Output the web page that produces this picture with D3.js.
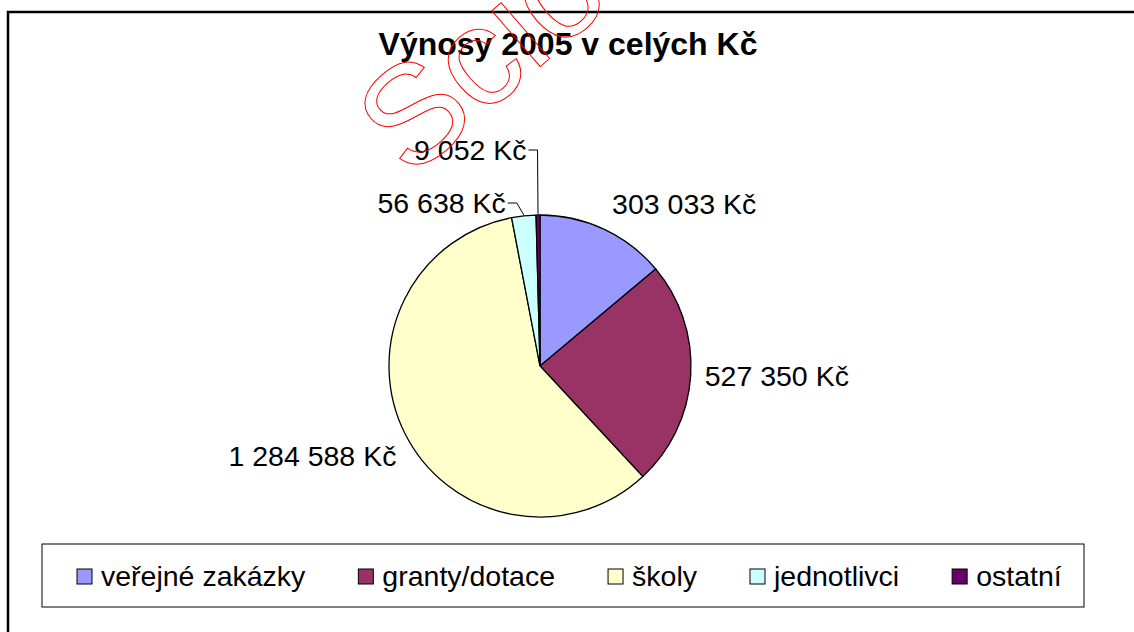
<!DOCTYPE html>
<html><head><meta charset="utf-8">
<script src="https://cdn.jsdelivr.net/npm/d3@7"></script>
<style>
html,body{margin:0;padding:0;background:#fff;}
svg{display:block;font-family:"Liberation Sans",Arial,sans-serif;}
</style></head>
<body>
<svg id="chart" width="1134" height="632"></svg>
<script>
// ---- data ----
const title = "Výnosy 2005 v celých Kč";
const categories = ["veřejné zakázky", "granty/dotace", "školy", "jednotlivci", "ostatní"];
const values = [303033, 527350, 1284588, 56638, 9052];
const colors = ["#9999FF", "#993366", "#FFFFCC", "#CCFFFF", "#660066"];
const watermark = "Scio";

// ---- layout ----
const W = 1134, H = 632;
const cx = 540, cy = 366, R = 151;
const fs = 28.5;

const svg = d3.select("#chart");
const fmt = v => d3.format(",")(v).replace(/,/g, " ") + " Kč";

// frame
svg.append("rect").attr("x", 8).attr("y", 12).attr("width", W + 20).attr("height", H + 20)
  .attr("fill", "none").attr("stroke", "#000").attr("stroke-width", 2.5);

// title
svg.append("text").attr("x", 568).attr("y", 55).attr("text-anchor", "middle")
  .attr("font-size", 32).attr("font-weight", "bold").text(title);

// pie
const pie = d3.pie().sort(null).value(d => d)(values);
const arc = d3.arc().innerRadius(0).outerRadius(R);
const g = svg.append("g").attr("transform", `translate(${cx},${cy})`);
g.selectAll("path").data(pie).join("path")
  .attr("d", arc)
  .attr("fill", (d, i) => colors[i])
  .attr("stroke", "#000").attr("stroke-width", 1.3);

// labels
const lab = svg.append("g").attr("font-size", fs);
pie.forEach((d, i) => {
  const a = (d.startAngle + d.endAngle) / 2;
  const sx = Math.sin(a), cyv = -Math.cos(a);
  const ex = cx + R * sx, ey = cy + R * cyv;
  const txt = fmt(values[i]);
  if (i === 3 || i === 4) {
    const ly = i === 4 ? 150 : 203;
    const kx = i === 4 ? ex - 0.5 : ex - 4;
    const hx = i === 4 ? kx : kx - 3;
    svg.append("path").attr("fill", "none").attr("stroke", "#000").attr("stroke-width", 1)
      .attr("d", `M${ex},${ey - 1} L${hx},${ly} L${hx - 9},${ly}`);
    lab.append("text").attr("x", hx - 11).attr("y", ly).attr("dy", "0.35em")
      .attr("text-anchor", "end").text(txt);
  } else {
    const rr = R + 10;
    const px = cx + rr * sx, py = cy + rr * cyv;
    const t = lab.append("text").attr("x", px + (sx > 0 ? 4 : 0)).attr("y", py)
      .attr("text-anchor", sx > 0 ? "start" : "end").text(txt);
    if (Math.abs(cyv) < 0.3) t.attr("dy", "0.35em");
    else if (cyv < 0) t.attr("dy", "-0.2em");
    else t.attr("dy", "0.95em");
  }
});

// legend
svg.append("rect").attr("x", 42).attr("y", 544).attr("width", 1042).attr("height", 63)
  .attr("fill", "#fff").attr("stroke", "#000").attr("stroke-width", 1);
const lg = svg.append("g");
let lx = 77;
categories.forEach((c, i) => {
  lg.append("rect").attr("x", lx).attr("y", 569).attr("width", 15).attr("height", 15)
    .attr("fill", colors[i]).attr("stroke", "#000").attr("stroke-width", 1);
  const t = lg.append("text").attr("x", lx + 24).attr("y", 576).attr("dy", "0.35em")
    .attr("font-size", fs).text(c);
  lx += 24 + t.node().getComputedTextLength() + 53;
});

// watermark
svg.append("text").attr("transform", "translate(410,180) rotate(-41)")
  .attr("font-size", 140).attr("fill", "none").attr("stroke", "#ff0000").attr("stroke-width", 1)
  .text(watermark);
</script>
</body></html>
